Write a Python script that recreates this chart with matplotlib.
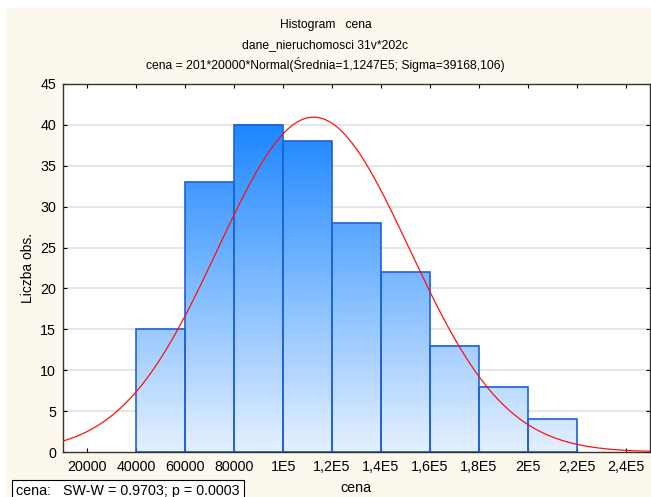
import numpy as np
import matplotlib
matplotlib.use('Agg')
import matplotlib.pyplot as plt
from matplotlib.colors import LinearSegmentedColormap
from matplotlib.patches import Rectangle

plt.rcParams['font.family'] = ['Liberation Sans', 'DejaVu Sans']

# histogram data (counts per 20000 wide class)
bin_left = [40000, 60000, 80000, 100000, 120000, 140000, 160000, 180000, 200000]
counts = [15, 33, 40, 38, 28, 22, 13, 8, 4]
bin_width = 20000
mean = 112470
sigma = 39168.106
n_obs = 201

xtick_vals = [20000, 40000, 60000, 80000, 100000, 120000, 140000, 160000, 180000, 200000, 220000, 240000]
xtick_labels = ['20000', '40000', '60000', '80000', '1E5', '1,2E5', '1,4E5', '1,6E5', '1,8E5', '2E5', '2,2E5', '2,4E5']
ytick_vals = [0, 5, 10, 15, 20, 25, 30, 35, 40, 45]

cream = '#fdf8ee'
edge_blue = '#1c62d8'
grad = LinearSegmentedColormap.from_list('g', ['#e3f0ff', '#1e87ff'])

fig = plt.figure(figsize=(6.51, 4.97), dpi=100)
fig.patches.append(Rectangle((5/651, 0), 1, 1 - 8/497, transform=fig.transFigure,
                             facecolor=cream, edgecolor='none', zorder=-10))

ax = fig.add_axes([63/651, 1 - 452/497, 587/651, (452 - 84)/497])
ax.set_facecolor('white')

for v in ytick_vals[1:-1]:
    ax.axhline(v, color='#e4e4e4', linewidth=1.3, zorder=0)

for x0, h in zip(bin_left, counts):
    g = np.linspace(0, h / 40.0, 100).reshape(-1, 1)
    ax.imshow(g, extent=[x0, x0 + bin_width, 0, h], origin='lower', cmap=grad,
              vmin=0, vmax=1, aspect='auto', zorder=1, interpolation='bilinear')
    ax.add_patch(Rectangle((x0, 0), bin_width, h, facecolor='none',
                           edgecolor=edge_blue, linewidth=1.2, zorder=2))

xs = np.linspace(10000, 250000, 400)
ys = n_obs * bin_width * np.exp(-0.5 * ((xs - mean) / sigma) ** 2) / (sigma * np.sqrt(2 * np.pi))
ax.plot(xs, ys, color='#ff1010', linewidth=0.9, zorder=3)

ax.set_xlim(10000, 250000)
ax.set_ylim(0, 45)
ax.set_xticks(xtick_vals)
ax.set_xticklabels(xtick_labels)
ax.set_yticks(ytick_vals)
ax.tick_params(axis='both', direction='in', length=3, labelsize=10.3, top=True, right=True,
               labeltop=False, labelright=False, pad=5)
ax.tick_params(axis='x', pad=6)
for s in ax.spines.values():
    s.set_color('#333333')
    s.set_linewidth(1.0)

ax.set_ylabel('Liczba obs.', fontsize=10, labelpad=4)
fig.text(356/651, 1 - 488/497, 'cena', ha='center', va='center', fontsize=10.3)

fig.text(0.5, 1 - 25/497, 'Histogram   cena', ha='center', va='center', fontsize=8.7)
fig.text(0.5, 1 - 45/497, 'dane_nieruchomosci 31v*202c', ha='center', va='center', fontsize=8.7)
fig.text(0.5, 1 - 65/497, 'cena = 201*20000*Normal(Średnia=1,1247E5; Sigma=39168,106)',
         ha='center', va='center', fontsize=8.7)

fig.text(16/651, 1 - 491/497, 'cena:   SW-W = 0.9703; p = 0.0003', ha='left', va='center',
         fontsize=10.3, bbox=dict(boxstyle='square,pad=0.3', facecolor='white', edgecolor='black', linewidth=0.8))

fig.savefig('out.png', dpi=100)
